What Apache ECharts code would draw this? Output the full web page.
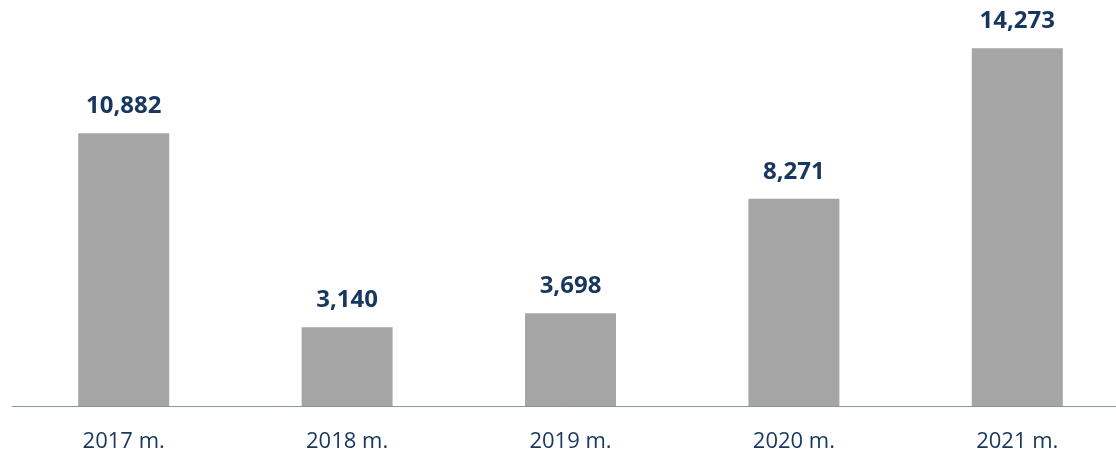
<!DOCTYPE html>
<html>
<head>
<meta charset="utf-8">
<script src="https://cdn.jsdelivr.net/npm/echarts@6/dist/echarts.min.js"></script>
<style>
  html, body { margin: 0; padding: 0; background: #fff; }
  #main { width: 1116px; height: 455px; }
</style>
</head>
<body>
<div id="main"></div>
<script>
// data
var years = ['2017 m.', '2018 m.', '2019 m.', '2020 m.', '2021 m.'];
var values = [10882, 3140, 3698, 8271, 14273];

var myChart = echarts.init(document.getElementById('main'));
var option = {
  animation: false,
  grid: {
    left: 12,
    width: 1117,
    top: 5,
    bottom: 49,
    outerBoundsMode: 'none'
  },
  xAxis: {
    type: 'category',
    data: years,
    axisTick: { show: false },
    axisLine: { lineStyle: { color: '#8497B0', width: 1 } },
    axisLabel: {
      color: '#17375E',
      fontFamily: 'Open Sans',
      fontSize: 22,
      margin: 25
    }
  },
  yAxis: {
    type: 'value',
    min: 0,
    max: 16000,
    show: false,
    splitLine: { show: false }
  },
  series: [{
    type: 'bar',
    data: values,
    barWidth: 91,
    itemStyle: { color: '#A5A5A5' },
    label: {
      show: true,
      position: 'top',
      distance: 15,
      color: '#17375E',
      fontFamily: 'Open Sans',
      fontWeight: 'bold',
      fontSize: 24,
      formatter: function (p) {
        return p.value.toLocaleString('en-US');
      }
    }
  }]
};
myChart.setOption(option);
</script>
</body>
</html>
